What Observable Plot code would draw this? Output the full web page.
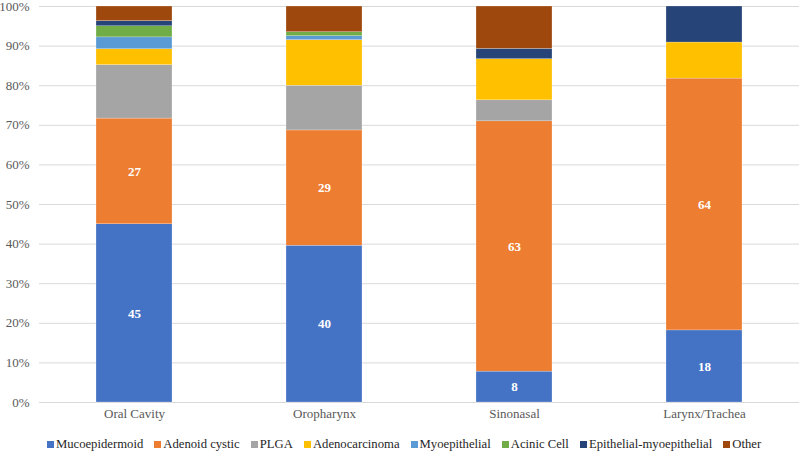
<!DOCTYPE html>
<html>
<head>
<meta charset="utf-8">
<script src="https://cdn.jsdelivr.net/npm/d3@7"></script>
<script src="https://cdn.jsdelivr.net/npm/@observablehq/plot@0.6"></script>
<style>
  html, body { margin: 0; padding: 0; background: #fff; }
  #chart { width: 800px; height: 451px; overflow: hidden; }
  .legend { display: flex; justify-content: center; align-items: center; height: 23px; padding-top: 5px;
    font-family: "Liberation Serif", "DejaVu Serif", serif; font-size: 12.7px; color: #262626;
    padding-left: 8px; }
  .legend .item { display: flex; align-items: center; margin: 0 5.5px; }
  .legend .sw { width: 7px; height: 7px; margin-right: 2px; display: inline-block; }
</style>
</head>
<body>
<div id="chart"></div>
<script>
const categories = ["Oral Cavity", "Oropharynx", "Sinonasal", "Larynx/Trachea"];
const seriesNames = ["Mucoepidermoid", "Adenoid cystic", "PLGA", "Adenocarcinoma", "Myoepithelial", "Acinic Cell", "Epithelial-myoepithelial", "Other"];
const seriesColors = ["#4472C4", "#ED7D31", "#A5A5A5", "#FFC000", "#5B9BD5", "#70AD47", "#264478", "#9E480E"];
const labelledSeries = ["Mucoepidermoid", "Adenoid cystic"];

const mucoepidermoid = [45, 39.6, 7.8, 18.2];
const adenoidCystic = [26.7, 29.1, 63.2, 63.6];
const plga = [13.5, 11.3, 5.3, 0];
const adenocarcinoma = [4, 11.5, 10.4, 9.1];
const myoepithelial = [3, 1, 0, 0];
const acinicCell = [2.8, 1, 0, 0];
const epithelialMyoepithelial = [1.3, 0, 2.6, 9.1];
const other = [3.7, 6.5, 10.7, 0];

const yTicks = [0, 10, 20, 30, 40, 50, 60, 70, 80, 90, 100];

const seriesValues = [mucoepidermoid, adenoidCystic, plga, adenocarcinoma, myoepithelial, acinicCell, epithelialMyoepithelial, other];
const data = [];
seriesNames.forEach((s, i) => {
  categories.forEach((c, j) => {
    const v = seriesValues[i][j];
    if (v > 0) data.push({category: c, series: s, value: v});
  });
});

const serif = "'Liberation Serif', 'DejaVu Serif', serif";

const plot = Plot.plot({
  width: 800,
  height: 428,
  marginTop: 6,
  marginBottom: 26,
  marginLeft: 39,
  marginRight: 1,
  style: {fontFamily: serif, fontSize: "13px", color: "#595959", background: "#fff"},
  x: {domain: categories, paddingInner: 0.6, paddingOuter: 0.3, label: null},
  y: {domain: [0, 100], label: null},
  color: {domain: seriesNames, range: seriesColors},
  marks: [
    Plot.gridY(yTicks, {stroke: "#d9d9d9", strokeOpacity: 1, strokeWidth: 1}),
    Plot.barY(data, Plot.stackY({x: "category", y: "value", fill: "series", order: seriesNames, stroke: "#fff", strokeWidth: 0.4, strokeOpacity: 0.6})),
    Plot.text(data, Plot.stackY({x: "category", y: "value", z: "series", order: seriesNames,
      text: d => labelledSeries.includes(d.series) ? String(Math.round(d.value)) : null,
      fill: "#fff", fontWeight: "bold", fontSize: 13, fontFamily: serif})),
    Plot.axisY(yTicks, {tickSize: 0, tickPadding: 10, tickFormat: d => d + "%", fill: "#595959", fontFamily: serif}),
    Plot.axisX({tickSize: 0, tickPadding: 6, fill: "#595959", fontFamily: serif})
  ]
});

const container = document.getElementById("chart");
container.appendChild(plot);

const legend = document.createElement("div");
legend.className = "legend";
seriesNames.forEach((s, i) => {
  const item = document.createElement("span");
  item.className = "item";
  const sw = document.createElement("span");
  sw.className = "sw";
  sw.style.background = seriesColors[i];
  const label = document.createElement("span");
  label.textContent = s;
  item.appendChild(sw);
  item.appendChild(label);
  legend.appendChild(item);
});
container.appendChild(legend);
</script>
</body>
</html>
